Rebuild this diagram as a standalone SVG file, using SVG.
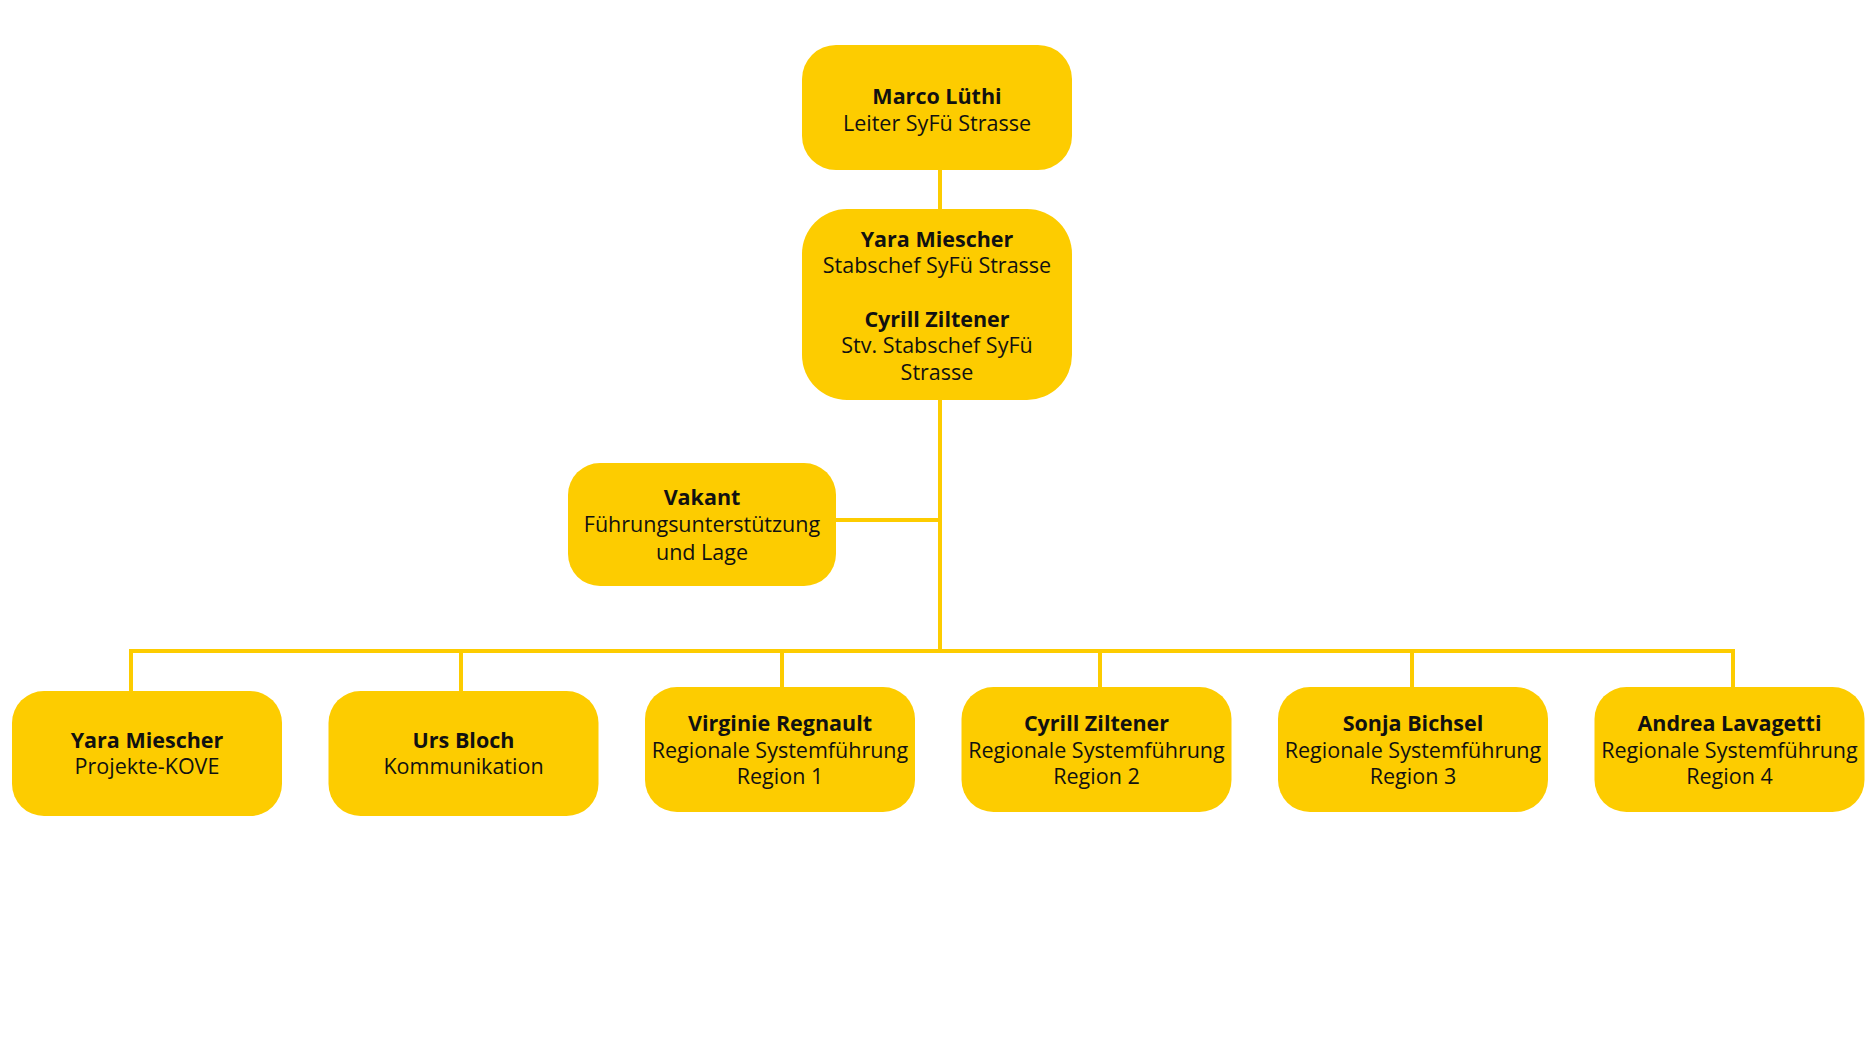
<svg xmlns="http://www.w3.org/2000/svg" width="1872" height="1053" viewBox="0 0 1872 1053">
<style>
.box{fill:#FDCC00}
.con{stroke:#FDCC00;stroke-width:4;fill:none}
text{font-family:"Open Sans","Noto Sans","Liberation Sans",sans-serif;font-size:21.5px;fill:#111;text-anchor:middle}
.b{font-weight:700;font-size:21.5px}
</style>
<rect width="1872" height="1053" fill="#fff"/>
<g id="connectors">
<line class="con" x1="940" y1="165" x2="940" y2="653"/>
<line class="con" x1="830" y1="520" x2="940" y2="520"/>
<polyline class="con" points="131,695 131,651 1733,651 1733,692"/>
<line class="con" x1="461" y1="651" x2="461" y2="695"/>
<line class="con" x1="782" y1="651" x2="782" y2="692"/>
<line class="con" x1="1100" y1="651" x2="1100" y2="692"/>
<line class="con" x1="1412" y1="651" x2="1412" y2="692"/>
</g>
<g id="n-luethi">
<rect class="box" x="802" y="45" width="270" height="125" rx="34"/>
<text x="937" y="104" class="b">Marco Lüthi</text>
<text x="937" y="131">Leiter SyFü Strasse</text>
</g>
<g id="n-stab">
<rect class="box" x="802" y="209" width="270" height="191" rx="45"/>
<text x="937" y="247" class="b">Yara Miescher</text>
<text x="937" y="273">Stabschef SyFü Strasse</text>
<text x="937" y="327" class="b">Cyrill Ziltener</text>
<text x="937" y="353">Stv. Stabschef SyFü</text>
<text x="937" y="380">Strasse</text>
</g>
<g id="n-vakant">
<rect class="box" x="568" y="463" width="268" height="123" rx="32"/>
<text x="702" y="505" class="b">Vakant</text>
<text x="702" y="532">Führungsunterstützung</text>
<text x="702" y="560">und Lage</text>
</g>
<g id="n-kove">
<rect class="box" x="12" y="691" width="270" height="125" rx="32"/>
<text x="147" y="748" class="b">Yara Miescher</text>
<text x="147" y="774">Projekte-KOVE</text>
</g>
<g id="n-komm">
<rect class="box" x="328.5" y="691" width="270" height="125" rx="32"/>
<text x="463.5" y="748" class="b">Urs Bloch</text>
<text x="463.5" y="774">Kommunikation</text>
</g>
<g id="n-r1">
<rect class="box" x="645" y="687" width="270" height="125" rx="32"/>
<text x="780" y="731" class="b">Virginie Regnault</text>
<text x="780" y="758">Regionale Systemführung</text>
<text x="780" y="784">Region 1</text>
</g>
<g id="n-r2">
<rect class="box" x="961.5" y="687" width="270" height="125" rx="32"/>
<text x="1096.5" y="731" class="b">Cyrill Ziltener</text>
<text x="1096.5" y="758">Regionale Systemführung</text>
<text x="1096.5" y="784">Region 2</text>
</g>
<g id="n-r3">
<rect class="box" x="1278" y="687" width="270" height="125" rx="32"/>
<text x="1413" y="731" class="b">Sonja Bichsel</text>
<text x="1413" y="758">Regionale Systemführung</text>
<text x="1413" y="784">Region 3</text>
</g>
<g id="n-r4">
<rect class="box" x="1594.5" y="687" width="270" height="125" rx="32"/>
<text x="1729.5" y="731" class="b">Andrea Lavagetti</text>
<text x="1729.5" y="758">Regionale Systemführung</text>
<text x="1729.5" y="784">Region 4</text>
</g>
</svg>
